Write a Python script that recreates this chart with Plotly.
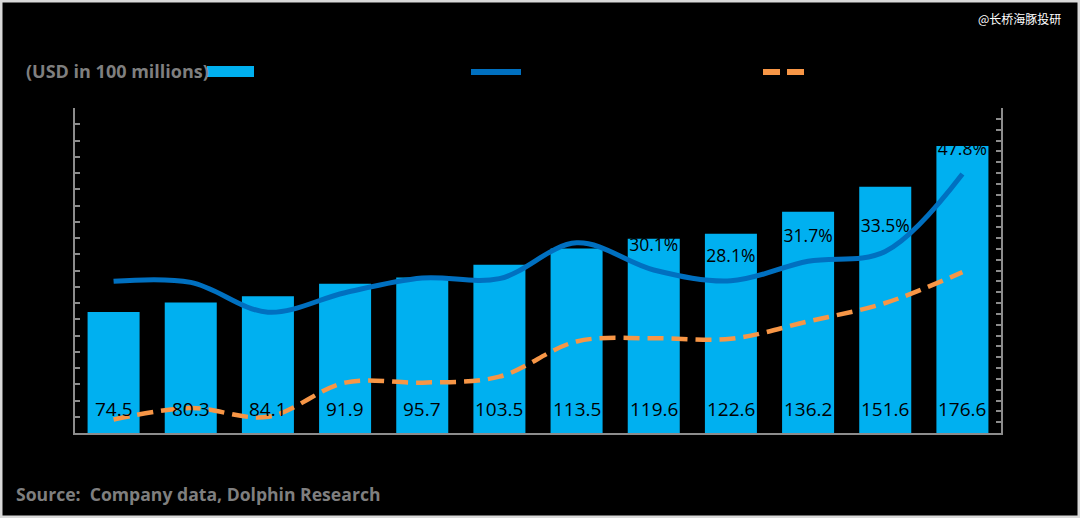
import plotly.graph_objects as go

# ---------------- data ----------------
categories = ["C1", "C2", "C3", "C4", "C5", "C6", "C7", "C8", "C9", "C10", "C11", "C12"]
bar_values = [74.5, 80.3, 84.1, 91.9, 95.7, 103.5, 113.5, 119.6, 122.6, 136.2, 151.6, 176.6]
solid_pct = [28.0, 27.8, 22.3, 25.9, 28.6, 28.5, 35.1, 30.1, 28.1, 31.7, 33.5, 47.8]
dashed_pct = [2.5, 4.6, 3.0, 9.3, 9.3, 10.4, 16.9, 17.5, 17.4, 20.6, 24.0, 29.7]

# ---------------- layout geometry ----------------
W, H = 1080, 518
L, R, T, B = 75, 79, 108, 85
PW, PH = W - L - R, H - T - B

def px(x):
    return (x - L) / PW

def py(y):
    return (T + PH - y) / PH

BAR_C = "#00B0F0"
LINE_C = "#0070C0"
ORANGE = "#F79646"
AXIS_C = "#8C8C8C"
FONT = "Open Sans"

fig = go.Figure()

fig.add_trace(go.Bar(
    x=categories, y=bar_values, marker_color=BAR_C, marker_line_width=0,
    showlegend=False, hoverinfo="skip",
))

fig.add_trace(go.Scatter(
    x=categories, y=dashed_pct, yaxis="y2", mode="lines",
    line=dict(color=ORANGE, width=4.5, dash="16px,8px", shape="spline", smoothing=1),
    showlegend=False, hoverinfo="skip",
))

fig.add_trace(go.Scatter(
    x=categories, y=solid_pct, yaxis="y2", mode="lines",
    line=dict(color=LINE_C, width=5, shape="spline", smoothing=1),
    showlegend=False, hoverinfo="skip",
))

fig.add_trace(go.Scatter(
    x=categories, y=solid_pct, yaxis="y2", mode="markers+text",
    marker=dict(size=22, color="rgba(0,0,0,0)"),
    text=[f"{v:.1f}%" for v in solid_pct], textposition="top center",
    textfont=dict(color="black", size=17.5, family=FONT),
    cliponaxis=False, showlegend=False, hoverinfo="skip",
))

axis_common = dict(
    showgrid=False, zeroline=False, showline=True, linecolor=AXIS_C, linewidth=2,
    ticks="inside", ticklen=5, tickwidth=2, tickcolor=AXIS_C, showticklabels=False,
)

shapes = [
    # outer frame
    dict(type="rect", xref="paper", yref="paper",
         x0=px(0), x1=px(W), y0=py(H), y1=py(0),
         line=dict(color="#D9D9D9", width=5), fillcolor="rgba(0,0,0,0)", layer="above"),
    # legend swatches
    dict(type="rect", xref="paper", yref="paper",
         x0=px(207), x1=px(254), y0=py(77), y1=py(66),
         line=dict(width=0), fillcolor=BAR_C),
    dict(type="line", xref="paper", yref="paper",
         x0=px(471), x1=px(521), y0=py(72), y1=py(72),
         line=dict(color=LINE_C, width=6)),
    dict(type="line", xref="paper", yref="paper",
         x0=px(763), x1=px(780), y0=py(72), y1=py(72),
         line=dict(color=ORANGE, width=6)),
    dict(type="line", xref="paper", yref="paper",
         x0=px(787), x1=px(804), y0=py(72), y1=py(72),
         line=dict(color=ORANGE, width=6)),
]

# bar value labels near the bar bottoms
annotations = [
    dict(text=f"{v:.1f}", x=c, y=0, xref="x", yref="y", yanchor="bottom",
         yshift=9, showarrow=False,
         font=dict(family=FONT, size=19, color="black"))
    for c, v in zip(categories, bar_values)
]

annotations += [
    dict(text="<b>(USD in 100 millions)</b>", xref="paper", yref="paper",
         x=px(24), y=py(71), xanchor="left", yanchor="middle", showarrow=False,
         font=dict(family=FONT, size=18, color="#7F7F7F")),
    dict(text="<b>Source:  Company data, Dolphin Research</b>", xref="paper", yref="paper",
         x=px(14), y=py(494), xanchor="left", yanchor="middle", showarrow=False,
         font=dict(family=FONT, size=17.6, color="#7F7F7F")),
    dict(text="@长桥海豚投研", xref="paper", yref="paper",
         x=px(1063), y=py(18), xanchor="right", yanchor="middle", showarrow=False,
         font=dict(family="Noto Sans CJK SC", size=12, color="white")),
]

fig.update_layout(
    width=W, height=H,
    margin=dict(l=L, r=R, t=T, b=B, pad=0),
    paper_bgcolor="black", plot_bgcolor="black",
    bargap=0.326,
    xaxis=dict(range=[-0.5, len(categories) - 0.5], showgrid=False, zeroline=False,
               showline=True, linecolor=AXIS_C, linewidth=2,
               showticklabels=False, ticks=""),
    yaxis=dict(range=[0, 200], dtick=10, **axis_common),
    yaxis2=dict(range=[0, 60], dtick=2, overlaying="y", side="right", **axis_common),
    shapes=shapes,
    annotations=annotations,
    showlegend=False,
)

fig.write_html(
    "out.html",
    config={"displayModeBar": False},
    post_script="document.body.style.margin='0';document.body.style.overflow='hidden';",
)
